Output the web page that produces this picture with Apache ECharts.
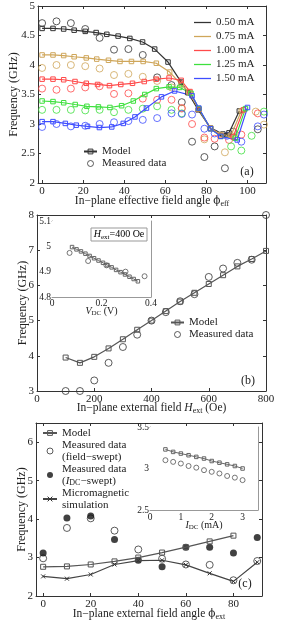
<!DOCTYPE html>
<html><head><meta charset="utf-8">
<script src="https://cdn.jsdelivr.net/npm/echarts@6/dist/echarts.min.js"></script>
<style>html,body{margin:0;padding:0;background:#fff}#c{width:303px;height:625px}</style>
</head><body><div id="c"></div><script>
// ---------- Panel (a) data ----------
const aCurrents = ['0.50 mA', '0.75 mA', '1.00 mA', '1.25 mA', '1.50 mA'];
const aModelPhi050 = [0,5.3,10.5,15.6,21,26.3,31.5,37,42.7,48.9,54.8,61.3,67.7,71,76,82,88,91,96];
const aModelF050   = [4.62,4.62,4.61,4.59,4.57,4.55,4.52,4.49,4.45,4.39,4.27,4.05,3.71,3.53,3.24,2.93,2.83,2.85,3.22];
const aModelPhi075 = [0,5.3,10.5,15.6,21.5,26.6,32.3,37.9,43.5,49.2,55.6,62.1,67.7,71.5,76.3,82,87,92,97];
const aModelF075   = [4.17,4.17,4.16,4.14,4.12,4.10,4.08,4.06,4.06,4.06,4.03,3.88,3.67,3.54,3.25,2.93,2.82,2.81,3.22];
const aModelPhi100 = [0,5.3,10.5,16,21.5,27,32.8,38.3,44,49.7,55.6,61.8,67.7,72,76.3,82,87,93,98];
const aModelF100   = [3.76,3.76,3.75,3.72,3.69,3.67,3.65,3.67,3.69,3.72,3.76,3.78,3.74,3.55,3.25,2.92,2.80,2.78,3.24];
const aModelPhi125 = [0,5.3,10.5,16.1,21.8,27.4,33,38.7,44.4,50,55.6,61.8,67,72.5,76.3,82,87,94,99];
const aModelF125   = [3.39,3.38,3.36,3.33,3.30,3.29,3.28,3.31,3.39,3.50,3.60,3.63,3.62,3.52,3.26,2.92,2.79,2.76,3.26];
const aModelPhi150 = [0,5.3,11.3,16.6,22.1,27.9,33.9,39.5,45.2,50.8,58.1,64.5,73,76.3,82,87,95,100];
const aModelF150   = [3.04,3.04,3.01,2.98,2.96,2.94,2.95,3.01,3.12,3.27,3.46,3.56,3.48,3.27,2.92,2.79,2.73,3.28];

const aMeasPhi050 = [0,7,14,21,28,35,42,49,56,63,68,73,79,84,89,93,105];
const aMeasF050   = [4.71,4.74,4.71,4.61,4.46,4.26,4.27,4.17,3.79,3.66,3.37,2.70,2.44,2.62,2.25,2.87,2.91];
const aMeasPhi075 = [0,7,14,21,28,35,42,49,56,63,68,79,89,104,108];
const aMeasF075   = [3.95,4.00,4.00,3.98,3.94,3.83,3.85,3.80,3.73,3.62,3.26,2.74,2.52,3.21,2.99];
const aMeasPhi100 = [0,7,14,21,28,35,42,49,56,63,68,73,79,84,91,97,105];
const aMeasF100   = [3.60,3.58,3.60,3.62,3.64,3.51,3.52,3.43,3.41,3.41,3.27,3.00,2.77,2.75,2.73,2.82,3.18];
const aMeasPhi125 = [0,7,14,21,28,35,42,49,56,63,68,92,97,102,108];
const aMeasF125   = [3.24,3.24,3.24,3.23,3.24,3.20,3.24,3.26,3.30,3.24,3.18,2.62,2.55,2.80,3.21];
const aMeasPhi150 = [0,7,14,21,28,35,42,49,56,63,68,73,79,84,90,97,105,108];
const aMeasF150   = [2.95,3.00,2.96,2.97,3.00,3.03,3.05,3.07,3.10,3.18,3.17,3.16,2.92,2.84,2.80,2.70,2.96,3.16];
const aColors = ['#333333', '#cfa65a', '#ff4a4a', '#3ee03e', '#3e4dff'];
const aXTicks = [0,20,40,60,80,100];
const aYTicks = [2,2.5,3,3.5,4,4.5,5];

// ---------- Panel (b) data ----------
const bField = [100,150,200,250,300,350,400,450,500,550,600,650,700,750,800];
const bModel = [3.95,3.80,3.97,4.21,4.47,4.74,5.00,5.27,5.54,5.79,6.04,6.29,6.54,6.75,6.98];
const bMeas  = [3.00,3.00,3.30,3.80,4.25,4.60,5.00,5.24,5.55,5.75,6.24,6.48,6.64,6.73,8.00];
const bXTicks = [0,200,400,600,800];
const bYTicks = [3,4,5,6,7,8];
// inset (b)
const biVdcModel = [0.081,0.099,0.117,0.135,0.152,0.170,0.188,0.206,0.224,0.241,0.259,0.277,0.295,0.313,0.330,0.347];
const biModel    = [4.997,4.988,4.980,4.971,4.962,4.953,4.944,4.935,4.926,4.917,4.907,4.898,4.889,4.880,4.871,4.862];
const biVdcMeas  = [0.071,0.146,0.220,0.297,0.374];
const biMeas     = [4.974,4.942,4.925,4.900,4.882];
const biXTicks = [0,0.2,0.4];
const biYTicks = [4.8,4.9,5,5.1];

// ---------- Panel (c) data ----------
const cPhi      = [0,10,20,30,40,50,60,70,80,90];
const cModel    = [2.76,2.77,2.82,2.90,3.00,3.13,3.27,3.42,3.57];
const cMicro    = [2.51,2.45,2.56,2.82,2.92,2.93,2.81,2.59,2.38,2.88];
const cField    = [2.98,3.77,4.02,3.70,3.21,2.97,2.82,2.81,2.41,2.91];
const cIdc      = [3.12,4.03,4.08,3.47,2.93,2.76,3.27,3.27,3.12,3.52];
const cXTicks = [0,20,40,60,80];
const cYTicks = [2,3,4,5,6];
// inset (c)
const ciIdc   = [0.5,0.75,1,1.25,1.5,1.75,2,2.25,2.5,2.75,3];
const ciModel = [3.23,3.20,3.18,3.16,3.14,3.12,3.09,3.07,3.05,3.03,3.00];
const ciMeas  = [3.10,3.08,3.06,3.03,3.01,2.98,2.96,2.94,2.91,2.89,2.86];
const ciXTicks = [0,1,2,3];
const ciYTicks = [2.5,3,3.5];

// ---------- helpers ----------
const F = 'Liberation Serif';
const TXT = '#222';
const pair = (xs, ys) => xs.map((x, i) => [x, ys[i]]);
function rich(fs) {
  return {
    t: {fontFamily: F, fontSize: fs, color: TXT},
    i: {fontFamily: F, fontSize: fs, color: TXT, fontStyle: 'italic'},
    p: {fontFamily: 'DejaVu Serif', fontSize: fs - 1, color: TXT},
    s: {fontFamily: F, fontSize: Math.round(fs * 0.72), color: TXT, verticalAlign: 'bottom', padding: [Math.round(fs * 0.5), 0, 0, 0]}
  };
}
function axis(dim, grid, min, max, ticks, o) {
  o = o || {};
  const lc = o.lc || '#333';
  const mirror = !!o.mirror;
  const pos = dim === 'x' ? (mirror ? 'top' : 'bottom') : (mirror ? 'right' : 'left');
  const a = {
    type: 'value', gridIndex: grid, min: min, max: max, position: pos,
    axisLine: {show: true, onZero: false, lineStyle: {color: lc, width: 1}},
    axisTick: {show: true, inside: true, length: o.tl || 3, customValues: ticks, lineStyle: {color: lc, width: 1}},
    axisLabel: {show: !mirror, customValues: ticks, margin: o.lm == null ? 3 : o.lm, fontFamily: F, fontSize: o.fs || 11, color: TXT},
    splitLine: {show: false}
  };
  if (o.name && !mirror) {
    a.name = o.name;
    a.nameLocation = 'middle';
    a.nameGap = o.ng;
    a.nameMoveOverlap = false;
    a.nameTextStyle = {fontFamily: F, fontSize: o.nfs || 12, color: TXT, rich: rich(o.nfs || 12)};
  }
  return a;
}
function both(dim, grid, min, max, ticks, o) {
  return [axis(dim, grid, min, max, ticks, o), axis(dim, grid, min, max, ticks, Object.assign({}, o, {mirror: true}))];
}

const grids = [
  {left: 37, top: 6, width: 229, height: 177},
  {left: 37, top: 215, width: 229, height: 176},
  {left: 52, top: 221, width: 99, height: 76, show: true, backgroundColor: '#fff', borderWidth: 0, z: 3},
  {left: 36, top: 423, width: 226, height: 173},
  {left: 150, top: 427, width: 108, height: 83, show: true, backgroundColor: '#fff', borderWidth: 0, z: 3}
];

const xAxes = [].concat(
  both('x', 0, -2, 109, aXTicks, {name: '{t|In−plane effective field angle }{p|ϕ}{s|eff}', ng: 11, nfs: 11.5}),
  both('x', 1, 0, 800, bXTicks, {name: '{t|In−plane external field }{i|H}{s|ext}{t| (Oe)}', ng: 10, nfs: 11.5}),
  both('x', 2, 0, 0.4, biXTicks, {lc: '#999', fs: 9.5, lm: 1, tl: 2, name: '{i|V}{s|DC}{t| (V)}', nfs: 10, ng: 8}),
  both('x', 3, -3, 92, cXTicks, {name: '{t|In−plane external field angle }{p|ϕ}{s|ext}', ng: 11, nfs: 11.5}),
  both('x', 4, 0, 3.5, ciXTicks, {lc: '#999', fs: 9.5, lm: 2, tl: 2, name: '{i|I}{s|DC}{t| (mA)}', nfs: 10, ng: 9})
);
const yAxes = [].concat(
  both('y', 0, 2, 5, aYTicks, {name: 'Frequency (GHz)', ng: 18}),
  both('y', 1, 3, 8, bYTicks, {name: 'Frequency (GHz)', ng: 8}),
  both('y', 2, 4.8, 5.1, biYTicks, {lc: '#999', fs: 9.5, lm: 1, tl: 2}),
  both('y', 3, 2, 6.5, cYTicks, {name: 'Frequency (GHz)', ng: 8}),
  both('y', 4, 2.5, 3.5, ciYTicks, {lc: '#999', fs: 9.5, lm: 1, tl: 2})
);

const hollow = (c) => ({color: 'rgba(0,0,0,0)', borderColor: c, borderWidth: 1});
const series = [];
const aModels = [[aModelPhi050, aModelF050], [aModelPhi075, aModelF075], [aModelPhi100, aModelF100], [aModelPhi125, aModelF125], [aModelPhi150, aModelF150]];
const aMeas = [[aMeasPhi050, aMeasF050], [aMeasPhi075, aMeasF075], [aMeasPhi100, aMeasF100], [aMeasPhi125, aMeasF125], [aMeasPhi150, aMeasF150]];
aCurrents.forEach((name, k) => {
  const c = aColors[k];
  series.push({type: 'scatter', name: 'meas ' + name, xAxisIndex: 0, yAxisIndex: 0, data: pair(aMeas[k][0], aMeas[k][1]),
    symbol: 'circle', symbolSize: 7, itemStyle: hollow(c), z: 2, silent: true});
});
aCurrents.forEach((name, k) => {
  const c = aColors[k];
  series.push({type: 'line', name: 'model ' + name, xAxisIndex: 0, yAxisIndex: 0, data: pair(aModels[k][0], aModels[k][1]),
    symbol: 'rect', symbolSize: 4.5, lineStyle: {color: c, width: 1.2}, itemStyle: hollow(c), z: 3, silent: true});
  // legend entry (line only)
  series.push({type: 'line', name: name, xAxisIndex: 0, yAxisIndex: 0, data: [], symbol: 'none', lineStyle: {color: c, width: 1.2}, itemStyle: {color: c}});
});
series.push({type: 'line', name: 'a-Model', xAxisIndex: 0, yAxisIndex: 0, data: [], symbol: 'rect', symbolSize: 5, lineStyle: {color: '#333', width: 1.2}, itemStyle: hollow('#333')});
series.push({type: 'scatter', name: 'a-Meas', xAxisIndex: 0, yAxisIndex: 0, data: [], symbol: 'circle', symbolSize: 7, itemStyle: hollow('#333')});

// (b)
series.push({type: 'line', name: 'b-Model', xAxisIndex: 2, yAxisIndex: 2, data: pair(bField, bModel), symbol: 'rect', symbolSize: 5,
  lineStyle: {color: '#555', width: 1.2}, itemStyle: hollow('#555'), z: 3});
series.push({type: 'scatter', name: 'b-Meas', xAxisIndex: 2, yAxisIndex: 2, data: pair(bField, bMeas), symbol: 'circle', symbolSize: 7,
  itemStyle: hollow('#333'), z: 2});
series.push({type: 'line', name: 'bi-Model', xAxisIndex: 4, yAxisIndex: 4, data: pair(biVdcModel, biModel), symbol: 'rect', symbolSize: 3.5,
  lineStyle: {color: '#666', width: 1}, itemStyle: hollow('#666'), z: 5});
series.push({type: 'scatter', name: 'bi-Meas', xAxisIndex: 4, yAxisIndex: 4, data: pair(biVdcMeas, biMeas), symbol: 'circle', symbolSize: 5,
  itemStyle: hollow('#555'), z: 5});

// (c)
series.push({type: 'scatter', name: 'c-Field', xAxisIndex: 6, yAxisIndex: 6, data: pair(cPhi, cField), symbol: 'circle', symbolSize: 7,
  itemStyle: hollow('#333'), z: 2});
series.push({type: 'scatter', name: 'c-Idc', xAxisIndex: 6, yAxisIndex: 6, data: pair(cPhi, cIdc), symbol: 'circle', symbolSize: 7,
  itemStyle: {color: '#111'}, z: 2});
series.push({type: 'line', name: 'c-Model', xAxisIndex: 6, yAxisIndex: 6, data: pair(cPhi.slice(0, cModel.length), cModel), symbol: 'rect', symbolSize: 5,
  lineStyle: {color: '#555', width: 1.2}, itemStyle: hollow('#555'), z: 3});
series.push({type: 'line', name: 'c-Micro', xAxisIndex: 6, yAxisIndex: 6, data: pair(cPhi, cMicro), symbol: 'path://M0,0L10,10M10,0L0,10', symbolSize: 4,
  lineStyle: {color: '#444', width: 1.2}, itemStyle: hollow('#333'), z: 3});
series.push({type: 'line', name: 'ci-Model', xAxisIndex: 8, yAxisIndex: 8, data: pair(ciIdc, ciModel), symbol: 'rect', symbolSize: 3.5,
  lineStyle: {color: '#666', width: 1}, itemStyle: hollow('#666'), z: 5});
series.push({type: 'scatter', name: 'ci-Meas', xAxisIndex: 8, yAxisIndex: 8, data: pair(ciIdc, ciMeas), symbol: 'circle', symbolSize: 5,
  itemStyle: hollow('#555'), z: 5});

const legendText = {
  'a-Model': 'Model', 'a-Meas': 'Measured data',
  'b-Model': 'Model', 'b-Meas': 'Measured data',
  'c-Model': '{t|Model}',
  'c-Field': '{t|Measured data}\n{t|(field−swept)}',
  'c-Idc': '{t|Measured data}\n{t|(}{i|I}{s|DC}{t|−swept)}',
  'c-Micro': '{t|Micromagnetic}\n{t|simulation}'
};
const LINE_ICON = 'path://M0,0H40V3H0Z';
const lgBase = {orient: 'vertical', padding: 0, selectedMode: false, itemStyle: {borderWidth: 1},
  textStyle: {fontFamily: F, fontSize: 11, color: TXT}};
const legends = [
  Object.assign({}, lgBase, {left: 194, top: 17, itemWidth: 17, itemHeight: 10, itemGap: 3,
    data: aCurrents.map(n => ({name: n, icon: LINE_ICON}))}),
  Object.assign({}, lgBase, {left: 83, top: 146, itemWidth: 13, itemHeight: 6, itemGap: 1,
    data: ['a-Model', 'a-Meas'], formatter: n => legendText[n]}),
  Object.assign({}, lgBase, {left: 170, top: 317, itemWidth: 13, itemHeight: 6, itemGap: 1,
    data: ['b-Model', 'b-Meas'], formatter: n => legendText[n]}),
  Object.assign({}, lgBase, {left: 42, top: 427, itemWidth: 14, itemHeight: 6, itemGap: 0,
    data: ['c-Model', 'c-Field', 'c-Idc', 'c-Micro'],
    formatter: n => legendText[n], textStyle: {fontFamily: F, fontSize: 11, color: TXT, lineHeight: 12, rich: rich(11)}})
];

const label = (txt, x, y) => ({type: 'text', x: x, y: y, z: 100, style: {text: txt, font: '12px "Liberation Serif"', fill: TXT, align: 'center', verticalAlign: 'middle'}});
const graphic = [
  label('(a)', 247, 172), label('(b)', 248, 381), label('(c)', 245, 584),
  {type: 'rect', z: 100, shape: {x: 91, y: 228, width: 56, height: 13}, style: {fill: '#fff', stroke: '#999', lineWidth: 1}},
  {type: 'text', z: 101, x: 119, y: 234.5, style: {text: '{i|H}{s|ext}{t|=400 Oe}', rich: rich(10), align: 'center', verticalAlign: 'middle'}}
];

const chart = echarts.init(document.getElementById('c'), null, {renderer: 'canvas'});
chart.setOption({
  animation: false,
  backgroundColor: '#fff',
  grid: grids, xAxis: xAxes, yAxis: yAxes, series: series, legend: legends, graphic: graphic
});
</script></body></html>
